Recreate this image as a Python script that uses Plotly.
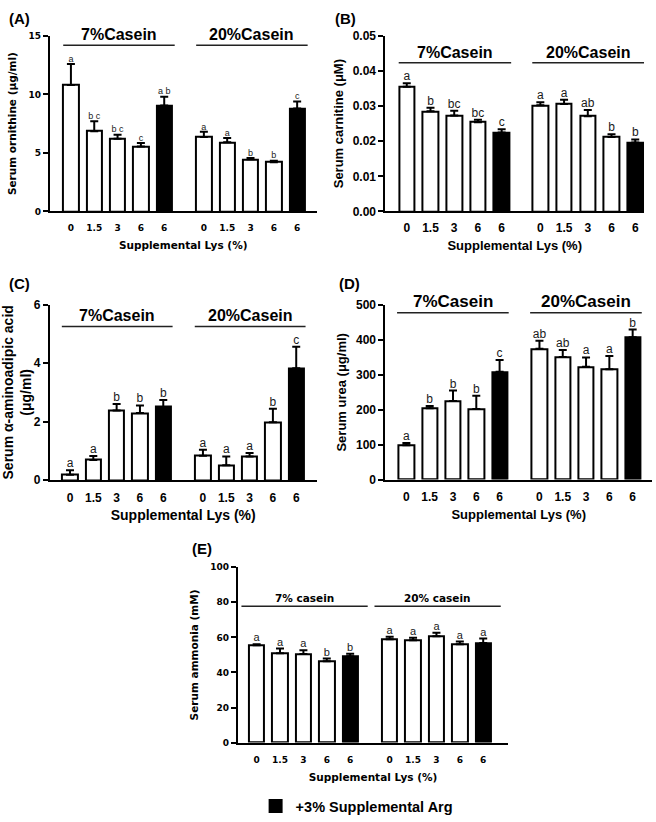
import plotly.graph_objects as go

# ---------------- data ----------------
tick_labels = ["0", "1.5", "3", "6", "6", "0", "1.5", "3", "6", "6"]
arg_flag = [0, 0, 0, 0, 1, 0, 0, 0, 0, 1]
groups_caps = ["7%Casein", "20%Casein"]
groups_lower = ["7% casein", "20% casein"]
legend_name = "+3% Supplemental Arg"

orn_mean = [10.8, 6.85, 6.2, 5.55, 9.05, 6.35, 5.9, 4.45, 4.2, 8.8]
orn_err = [1.8, 0.85, 0.35, 0.3, 0.75, 0.45, 0.37, 0.12, 0.13, 0.6]
orn_letters = ["a", "b c", "b c", "c", "a b", "a", "a", "b", "b", "c"]

car_mean = [0.0355, 0.0285, 0.0273, 0.0254, 0.0225, 0.0302, 0.0306, 0.0271, 0.0212, 0.0196]
car_err = [0.0010, 0.0010, 0.0014, 0.0007, 0.0009, 0.0009, 0.0012, 0.0018, 0.0008, 0.0009]
car_letters = ["a", "b", "bc", "bc", "c", "a", "a", "ab", "b", "b"]

aad_mean = [0.18, 0.69, 2.38, 2.29, 2.50, 0.83, 0.51, 0.81, 1.98, 3.82]
aad_err = [0.16, 0.13, 0.22, 0.26, 0.24, 0.21, 0.30, 0.12, 0.46, 0.74]
aad_letters = ["a", "a", "b", "b", "b", "a", "a", "a", "b", "c"]

urea_mean = [98, 204, 225, 202, 309, 375, 351, 323, 316, 408]
urea_err = [7, 7, 30, 38, 34, 23, 20, 27, 38, 22]
urea_letters = ["a", "b", "b", "b", "c", "ab", "ab", "a", "a", "b"]

amm_mean = [55.5, 51.0, 50.5, 46.4, 49.2, 58.9, 58.3, 60.7, 56.1, 56.8]
amm_err = [0.6, 2.6, 2.2, 1.5, 1.5, 1.5, 1.5, 1.9, 1.5, 2.5]
amm_letters = ["a", "a", "a", "b", "b", "a", "a", "a", "a", "a"]

# ---------------- layout helpers ----------------
W, H = 656, 822
FONT = "Liberation Sans, Arial, sans-serif"
WIDE = "DejaVu Sans, Liberation Sans, sans-serif"


def fx(p):
    return p / W


def fy(p):
    return 1 - p / H


panels = [
    dict(lab="(A)", labpos=(19, 12), mean=orn_mean, err=orn_err, letters=orn_letters, gap=1.7,
         xdom=(49, 316), ydom=(29.3, 208), xr=(-0.9, 10.53), yr=(0, 15), dtick=5, fmt=None,
         ytitle="Serum ornithine (μg/ml)", ystand=10, groups=groups_caps, gsize=16, gline=14.19,
         goff=(-0.33, 0.45), tsize=9, titsize=10.5, letsize=9, xstand=9, tls=7, tfam=WIDE, gfam=FONT),
    dict(lab="(B)", labpos=(345, 12), mean=car_mean, err=car_err, letters=car_letters, gap=1.63,
         xdom=(385, 644), ydom=(29.3, 208), xr=(-0.9, 10.0), yr=(0, 0.05), dtick=0.01, fmt=".2f",
         ytitle="Serum carnitine (μM)", ystand=6, groups=groups_caps, gsize=16, gline=0.04235,
         goff=(-0.34, 0.4), tsize=12, titsize=13, letsize=12, xstand=7, tls=4, tfam=FONT, gfam=FONT),
    dict(lab="(C)", labpos=(19, 281), mean=aad_mean, err=aad_err, letters=aad_letters, gap=1.7,
         xdom=(49, 316), ydom=(302.7, 481.3), xr=(-0.86, 10.57), yr=(0, 6), dtick=2, fmt=None,
         ytitle="Serum α-aminoadipic acid<br>(μg/ml)", ystand=6, groups=groups_caps, gsize=16, gline=5.25,
         goff=(-0.35, 0.4), tsize=12, titsize=14, letsize=12, xstand=7, tls=5, tfam=FONT, gfam=FONT),
    dict(lab="(D)", labpos=(349, 281), mean=urea_mean, err=urea_err, letters=urea_letters, gap=1.71,
         xdom=(385, 652), ydom=(303.3, 480.7), xr=(-0.9, 10.54), yr=(0, 500), dtick=100, fmt=None,
         ytitle="Serum urea (μg/ml)", ystand=6, groups=groups_caps, gsize=17, gline=478,
         goff=(-0.4, 0.39), tsize=12, titsize=13, letsize=12, xstand=7, tls=5, tfam=FONT, gfam=FONT),
    dict(lab="(E)", labpos=(201, 551), mean=amm_mean, err=amm_err, letters=amm_letters, gap=1.69,
         xdom=(237.3, 508), ydom=(570, 748.3), xr=(-0.8, 10.76), yr=(0, 100), dtick=20, fmt=None,
         ytitle="Serum ammonia (mM)", ystand=10, groups=groups_lower, gsize=10.5, gline=77.8,
         goff=(-0.65, 0.75), tsize=9, titsize=10.5, letsize=11, xstand=9, tls=8, tfam=WIDE, gfam=WIDE),
]

fig = go.Figure()
annotations = []
shapes = []
legend_shown = False

for i, p in enumerate(panels):
    n = i + 1
    xa = "x" if n == 1 else f"x{n}"
    ya = "y" if n == 1 else f"y{n}"
    pos = [k if k < 5 else (k - 1) + p["gap"] for k in range(10)]

    for flag in (0, 1):
        idx = [k for k in range(10) if arg_flag[k] == flag]
        show = bool(flag == 1 and not legend_shown)
        if show:
            legend_shown = True
        fig.add_trace(go.Bar(
            x=[pos[k] for k in idx], y=[p["mean"][k] for k in idx],
            width=0.66, xaxis=xa, yaxis=ya,
            marker=dict(color="black" if flag else "white", line=dict(color="black", width=2)),
            error_y=dict(type="data", symmetric=False, array=[p["err"][k] for k in idx],
                         arrayminus=[0] * len(idx), color="black", thickness=2, width=4),
            name=legend_name if flag else "Supplemental Lys",
            legendgroup="arg" if flag else "lys",
            showlegend=show,
        ))

    fig.add_trace(go.Scatter(
        x=pos, y=[m + e for m, e in zip(p["mean"], p["err"])], text=p["letters"],
        mode="text", textposition="top center", xaxis=xa, yaxis=ya,
        textfont=dict(family=FONT, size=p["letsize"], color="#1a1a1a"),
        showlegend=False, cliponaxis=False, hoverinfo="skip",
    ))

    axis_font = dict(family=p["tfam"], size=p["tsize"], color="black", weight="bold")
    title_font = dict(family=p["tfam"], size=p["titsize"], color="black", weight="bold")
    xkey = "xaxis" if n == 1 else f"xaxis{n}"
    ykey = "yaxis" if n == 1 else f"yaxis{n}"
    fig.update_layout(**{
        xkey: dict(domain=[fx(p["xdom"][0]), fx(p["xdom"][1])], range=list(p["xr"]), anchor=ya,
                   tickmode="array", tickvals=pos, ticktext=tick_labels, ticks="",
                   ticklabelstandoff=p["tls"],
                   showline=True, linecolor="black", linewidth=2, showgrid=False, zeroline=False,
                   tickfont=axis_font,
                   title=dict(text="Supplemental Lys (%)", font=title_font, standoff=p["xstand"])),
        ykey: dict(domain=[fy(p["ydom"][1]), fy(p["ydom"][0])], range=list(p["yr"]), anchor=xa,
                   dtick=p["dtick"], tick0=0, tickformat=p["fmt"], ticks="outside", ticklen=5,
                   tickwidth=2, tickcolor="black", showline=True, linecolor="black", linewidth=2,
                   showgrid=False, zeroline=False, tickfont=axis_font,
                   title=dict(text=p["ytitle"], font=title_font, standoff=p["ystand"])),
    })

    # group bars + labels
    for g, (a, b) in enumerate([(0, 4), (5, 9)]):
        x0 = pos[a] + p["goff"][0]
        x1 = pos[b] + p["goff"][1]
        shapes.append(dict(type="line", xref=xa, yref=ya, x0=x0, x1=x1,
                           y0=p["gline"], y1=p["gline"], line=dict(color="#222222", width=1.5)))
        annotations.append(dict(xref=xa, yref=ya, x=(x0 + x1) / 2, y=p["gline"], text=p["groups"][g],
                                showarrow=False, yanchor="bottom", yshift=0,
                                font=dict(family=p["gfam"], size=p["gsize"], color="black",
                                          weight="bold")))

    annotations.append(dict(xref="paper", yref="paper", x=fx(p["labpos"][0]), y=fy(p["labpos"][1]),
                            text=p["lab"], showarrow=False, xanchor="center", yanchor="middle",
                            font=dict(family=FONT, size=15, color="black", weight="bold")))

fig.update_layout(
    width=W, height=H, margin=dict(l=0, r=0, t=0, b=0),
    plot_bgcolor="white", paper_bgcolor="white",
    barmode="overlay", bargap=0,
    annotations=annotations, shapes=shapes,
    showlegend=True,
    legend=dict(x=fx(255), y=fy(813), xanchor="left", yanchor="middle", orientation="h",
                font=dict(family=FONT, size=14.5, color="black", weight="bold"),
                bgcolor="rgba(0,0,0,0)", itemclick=False),
    font=dict(family=FONT),
)

fig.write_html(
    "out.html",
    config={"displayModeBar": False},
    post_script=("document.documentElement.style.margin='0';"
                 "document.body.style.margin='0';"
                 "document.body.style.overflow='hidden';"),
)
